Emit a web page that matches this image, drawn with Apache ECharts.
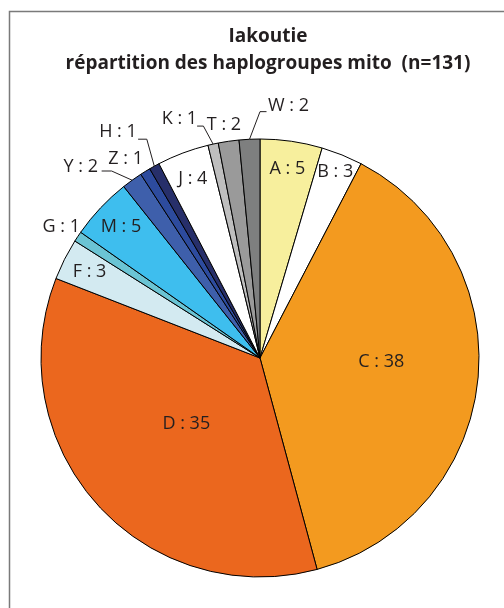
<!DOCTYPE html>
<html><head><meta charset="utf-8">
<script src="https://cdn.jsdelivr.net/npm/echarts@6/dist/echarts.min.js"></script>
<style>html,body{margin:0;padding:0;background:#fff}#c{width:504px;height:608px}</style>
</head><body><div id="c"></div>
<script>
// ---- data ----
const haplogroups = ['A','B','C','D','F','G','M','Y','Z','H','J','K','T','W'];
// slice sizes as drawn in the picture (angles, total 131)
const sliceCounts = [6,4,50,46,4,1,6,2,1,1,5,1,2,2];
// counts printed in the labels
const labelCounts = [5,3,38,35,3,1,5,2,1,1,4,1,2,2];
const sliceColors = ['#F7EF9D','#FFFFFF','#F39A1F','#EB671E','#D3EAF1','#6BC4D4','#3EBEEE','#3E5FAB','#2D4B9E','#272F6A','#FFFFFF','#BEBEBE','#9A9A9A','#7E7F7F'];
const titleLines = ['Iakoutie','répartition des haplogroupes mito  (n=131)'];

// ---- layout / style ----
const CX = 260, CY = 358, R = 219;
const FONT = '"Open Sans", "Liberation Sans", sans-serif';
const TXT = '#231F20';
// outside labels: offsets relative to the slice's arc anchor computed by ECharts
const outsideLabels = {
  W: {dx: 18.5, dy: -33,   align: 'left',   line: [[10.5,-27.6],[17,-27.6]]},
  T: {dx: -4.6, dy: -16,   align: 'center'},
  K: {dx: -16,  dy: -25,   align: 'right',  line: [[-9.7,-18],[-16,-18]]},
  H: {dx: -17.5,dy: -34.6, align: 'right',  line: [[-7.5,-27],[-16.2,-27]]},
  Z: {dx: -2.3, dy: -12.5, align: 'right'},
  Y: {dx: -34.2,dy: -13.5, align: 'right',  line: [[-20.5,-9.2],[-30.5,-9.2]]},
  G: {dx: 2.2,  dy: -9.5,  align: 'right'}
};
// inside labels drawn on transparent rings (ring mid-radius sets the label radius)
const insideRings = [
  {names: ['A','F','M','J'], radius: [178,198]},
  {names: ['B'], radius: [188,208]},
  {names: ['C'], radius: [109,129], shiftY: -9},
  {names: ['D'], radius: [86,106]}
];

const fmt = p => haplogroups[p.dataIndex] + ' : ' + labelCounts[p.dataIndex];
const labelStyle = {fontFamily: FONT, fontSize: 18, color: TXT};

const mainData = haplogroups.map((h,i) => {
  const o = outsideLabels[h];
  return {
    name: h, value: sliceCounts[i],
    itemStyle: {color: sliceColors[i]},
    label: {show: !!o},
    labelLine: {show: !!o, lineStyle: o && o.line ? {color: TXT, width: 1} : {width: 0, opacity: 0}}
  };
});

const series = [{
  type: 'pie', center: [CX, CY], radius: R, startAngle: 90, clockwise: true,
  avoidLabelOverlap: false, silent: true, animation: false,
  itemStyle: {borderColor: '#000', borderWidth: 1},
  label: Object.assign({position: 'outside', formatter: fmt}, labelStyle),
  labelLine: {length: 10, length2: 10},
  labelLayout: function (params) {
    const h = haplogroups[params.dataIndex];
    const o = outsideLabels[h];
    if (!o || !params.labelLinePoints) return {};
    const a = params.labelLinePoints[0];
    const pts = o.line ? [a, [a[0]+o.line[0][0], a[1]+o.line[0][1]], [a[0]+o.line[1][0], a[1]+o.line[1][1]]]
                       : [a, a, a];
    return {x: a[0]+o.dx, y: a[1]+o.dy, align: o.align, verticalAlign: 'middle', labelLinePoints: pts};
  },
  data: mainData
}];

insideRings.forEach(ring => {
  const s = {
    type: 'pie', center: [CX, CY], radius: ring.radius, startAngle: 90, clockwise: true,
    avoidLabelOverlap: false, silent: true, animation: false, z: 5,
    itemStyle: {color: 'rgba(0,0,0,0)', borderWidth: 0},
    label: Object.assign({position: 'inside', formatter: fmt}, labelStyle),
    labelLine: {show: false},
    emphasis: {disabled: true},
    data: haplogroups.map((h,i) => ({name: h, value: sliceCounts[i], label: {show: ring.names.indexOf(h) >= 0}}))
  };
  if (ring.shiftY) s.labelLayout = () => ({dy: ring.shiftY});
  series.push(s);
});

const chart = echarts.init(document.getElementById('c'), null, {renderer: 'canvas'});
chart.setOption({
  animation: false,
  backgroundColor: '#fff',
  title: {
    text: titleLines.join('\n'), left: 263, top: 18, textAlign: 'center',
    textStyle: {fontFamily: FONT, fontWeight: 'bold', fontSize: 19, lineHeight: 27, color: TXT}
  },
  graphic: [{type: 'rect', silent: true, shape: {x: 9.5, y: 11.5, width: 700, height: 800},
    style: {fill: 'none', stroke: '#7a7a7a', lineWidth: 1.5}}],
  series: series
});
</script></body></html>
